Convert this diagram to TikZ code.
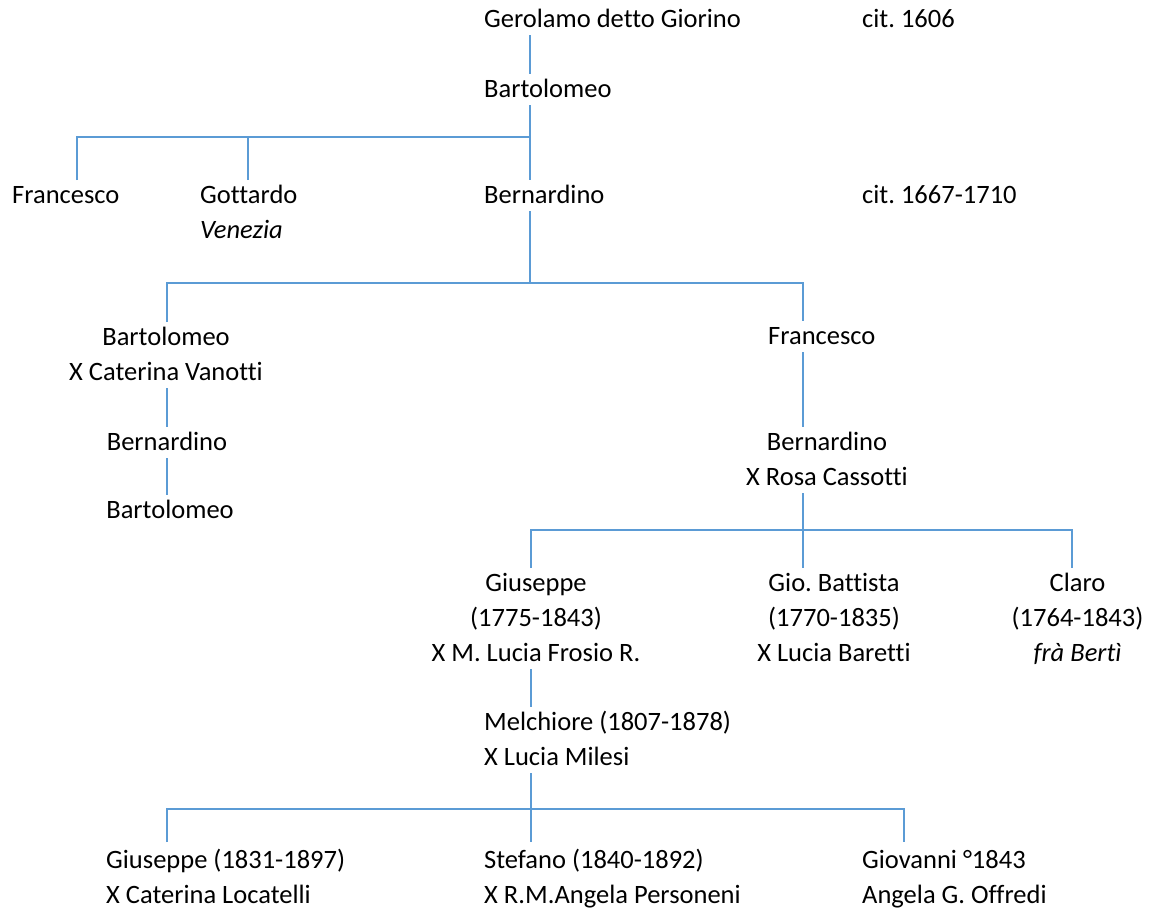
\documentclass[tikz,border=0pt]{standalone}
\usepackage{fontspec}
\setmainfont{Carlito}[Ligatures={NoCommon}]
\definecolor{lineblue}{HTML}{5B9BD5}
\newcommand\fs{\fontsize{26.5}{35}\selectfont\frenchspacing}
\begin{document}
\begin{tikzpicture}[x=1pt,y=-1pt,
  person/.style={inner sep=0pt, font=\fs, text=black},
  conn/.style={draw=lineblue, line width=1.2pt}]
\useasboundingbox[fill=white] (0,0) rectangle (1157,910);
% nodes
\node[person, anchor=north west] (ger) at (484,2.5) {\strut Gerolamo detto Giorino};
\node[person, anchor=north west] (cit1) at (862,2.5) {\strut cit. 1606};
\node[person, anchor=north west] (bar1) at (484,72.5) {\strut Bartolomeo};
\node[person, anchor=north west] (fra1) at (12,178.5) {\strut Francesco};
\node[person, anchor=north west, align=left] (got) at (200,178.5) {\strut Gottardo\\\strut\textit{Venezia}};
\node[person, anchor=north west] (ber1) at (484,178.5) {\strut Bernardino};
\node[person, anchor=north west] (cit2) at (862,178.5) {\strut cit. 1667-1710};
\node[person, anchor=north, align=center] (bar2) at (166,320.5) {\strut Bartolomeo\\\strut X Caterina Vanotti};
\node[person, anchor=north] (ber2) at (167,425.5) {\strut Bernardino};
\node[person, anchor=north] (bar3) at (170,493.5) {\strut Bartolomeo};
\node[person, anchor=north west] (fra2) at (768,319.5) {\strut Francesco};
\node[person, anchor=north, align=center] (ber3) at (827,425.5) {\strut Bernardino\\\strut X Rosa Cassotti};
\node[person, anchor=north, align=center] (giu1) at (536,566.5) {\strut Giuseppe\\\strut (1775-1843)\\\strut X M. Lucia Frosio R.};
\node[person, anchor=north, align=center] (gio) at (834,566.5) {\strut Gio. Battista\\\strut (1770-1835)\\\strut X Lucia Baretti};
\node[person, anchor=north, align=center] (cla) at (1077.5,566.5) {\strut Claro\\\strut (1764-1843)\\\strut\textit{frà Bertì}};
\node[person, anchor=north west, align=left] (mel) at (484,705.5) {\strut Melchiore (1807-1878)\\\strut X Lucia Milesi};
\node[person, anchor=north west, align=left] (giu2) at (106,843.5) {\strut Giuseppe (1831-1897)\\\strut X Caterina Locatelli};
\node[person, anchor=north west, align=left] (ste) at (484,843.5) {\strut Stefano (1840-1892)\\\strut X R.M.Angela Personeni};
\node[person, anchor=north west, align=left] (gio2) at (862,843.5) {\strut Giovanni °1843\\\strut Angela G. Offredi};
% junctions
\coordinate (j1) at (530,137);
\coordinate (b1a) at (77,137);
\coordinate (b1b) at (248,137);
\coordinate (j2) at (530,283);
\coordinate (dl2) at (167,283);
\coordinate (dr2) at (803,283);
\coordinate (j3) at (803,530);
\coordinate (dl3) at (531,530);
\coordinate (dr3) at (1072,530);
\coordinate (j4) at (531,809);
\coordinate (dl4) at (167,809);
\coordinate (dr4) at (904,809);
% connectors
\draw[conn] ([yshift=2.5pt]ger.south -| j1) -- ([yshift=-1.5pt]bar1.north -| j1);
\draw[conn] ([yshift=2.5pt]bar1.south -| j1) -- ([yshift=-1.5pt]ber1.north -| j1);
\draw[conn] ([yshift=-1.5pt]fra1.north -| b1a) |- (j1);
\draw[conn] (b1b) -- ([yshift=-1.5pt]got.north -| b1b);
\draw[conn] ([yshift=2.5pt]ber1.south -| j2) -- (j2);
\draw[conn] ([yshift=-1.5pt]bar2.north -| dl2) |- (dr2) -- ([yshift=-1.5pt]fra2.north -| dr2);
\draw[conn] ([yshift=2.5pt]bar2.south -| dl2) -- ([yshift=-1.5pt]ber2.north -| dl2);
\draw[conn] ([yshift=2.5pt]ber2.south -| dl2) -- ([yshift=-1.5pt]bar3.north -| dl2);
\draw[conn] ([yshift=2.5pt]fra2.south -| dr2) -- ([yshift=-1.5pt]ber3.north -| dr2);
\draw[conn] ([yshift=2.5pt]ber3.south -| j3) -- ([yshift=-1.5pt]gio.north -| j3);
\draw[conn] ([yshift=-1.5pt]giu1.north -| dl3) |- (dr3) -- ([yshift=-1.5pt]cla.north -| dr3);
\draw[conn] ([yshift=2.5pt]giu1.south -| j4) -- ([yshift=-1.5pt]mel.north -| j4);
\draw[conn] ([yshift=2.5pt]mel.south -| j4) -- ([yshift=1.5pt]ste.north -| j4);
\draw[conn] ([yshift=1.5pt]giu2.north -| dl4) |- (dr4) -- ([yshift=1.5pt]gio2.north -| dr4);
\end{tikzpicture}
\end{document}
